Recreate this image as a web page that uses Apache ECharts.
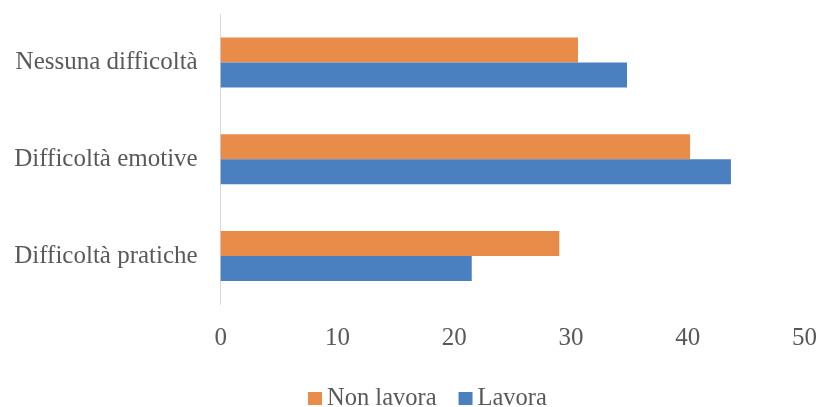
<!DOCTYPE html>
<html>
<head>
<meta charset="utf-8">
<script src="https://cdn.jsdelivr.net/npm/echarts@6/dist/echarts.min.js"></script>
<style>html,body{margin:0;padding:0;background:#fff;}#c{width:820px;height:407px;}</style>
</head>
<body>
<div id="c"></div>
<script>
var categories = ['Difficoltà pratiche', 'Difficoltà emotive', 'Nessuna difficoltà'];
var lavora = [21.5, 43.7, 34.8];
var nonLavora = [29.0, 40.2, 30.6];
var xTicks = [0, 10, 20, 30, 40, 50];

var font = 'Liberation Serif';
var chart = echarts.init(document.getElementById('c'));
chart.setOption({
  animation: false,
  grid: { left: 220.7, right: 15.5, top: 14.2, bottom: 102.6, containLabel: false },
  legend: {
    data: ['Non lavora', 'Lavora'],
    left: 303, top: 381,
    itemWidth: 14, itemHeight: 13, itemGap: 22,
    textStyle: { fontFamily: font, fontSize: 24.5, color: '#595959' },
    icon: 'rect'
  },
  xAxis: {
    type: 'value', min: xTicks[0], max: xTicks[xTicks.length - 1], interval: 10,
    axisLine: { show: false }, axisTick: { show: false },
    splitLine: { show: false },
    axisLabel: { fontFamily: font, fontSize: 25, color: '#595959', margin: 22 }
  },
  yAxis: {
    type: 'category', data: categories,
    axisLine: { show: true, lineStyle: { color: '#d9d9d9', width: 1 } },
    axisTick: { show: false },
    axisLabel: { fontFamily: font, fontSize: 25, color: '#595959', margin: 23, padding: [5, 0, 0, 0] }
  },
  series: [
    { name: 'Non lavora', type: 'bar', data: nonLavora, barWidth: 25, barGap: '0%', itemStyle: { color: '#E98C4A' } },
    { name: 'Lavora', type: 'bar', data: lavora, barWidth: 25, barGap: '0%', itemStyle: { color: '#4A80C0' } }
  ]
});
</script>
</body>
</html>
